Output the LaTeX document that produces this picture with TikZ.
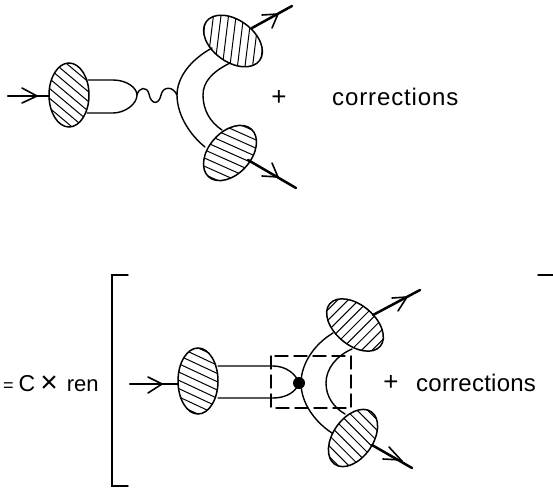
\documentclass[tikz,border=0pt]{standalone}
\usepackage{fontspec}
\setmainfont{Liberation Sans}
\usetikzlibrary{shapes.geometric}
\tikzset{
  x=1pt,y=-1pt,
  wire/.style={line width=1.4pt,line cap=round},
  leg/.style={line width=2.5pt,line cap=round},
  barb/.style={line width=1.6pt,line cap=round,line join=miter},
  lbl/.style={inner sep=0pt,font=\fontsize{24}{26}\selectfont},
  pluslbl/.style={inner sep=0pt,font=\fontsize{26}{28}\selectfont},
  blob/.style n args={3}{ellipse,draw,line width=1.5pt,inner sep=0pt,minimum width=2*#1 pt,minimum height=2*#2 pt,rotate=#3},
}
% #1 centre, #2 half axis, #3 half axis, #4 tilt, #5 hatch angle, #6 spacing
\newcommand\hatchblob[6]{%
  \begin{scope}
    \clip[shift={(#1)},rotate=#4] (0pt,0pt) ellipse [x radius=#2pt,y radius=#3pt];
    \begin{scope}[shift={(#1)},rotate=#5]
      \foreach \k in {-7,...,7}{\draw[line width=1pt] (-50pt,\k*#6pt) -- (50pt,\k*#6pt);}
    \end{scope}
  \end{scope}}
\begin{document}
\begin{tikzpicture}
\useasboundingbox (0,0) rectangle (553,487);
% top diagram
\coordinate (ha1) at (69,95);
\coordinate (ha2) at (233,41);
\coordinate (ha3) at (230,153);
\hatchblob{ha1}{32}{20}{90}{-40}{7.5}
\hatchblob{ha2}{33}{21}{-36}{83}{7.5}
\hatchblob{ha3}{32}{21}{48}{-24}{7.5}
\node[blob={32}{20}{90}] (a1) at (ha1) {};
\node[blob={33}{21}{-36}] (a2) at (ha2) {};
\node[blob={32}{21}{48}] (a3) at (ha3) {};
\coordinate (a1in) at (8,96);
\coordinate (a2out) at (292,6);
\coordinate (a3out) at (296,188);
\coordinate (av) at (137,95);
\coordinate (aw) at (177,95);
\draw[leg] (a1in) -- (49,96);
\draw[leg] (252,28) -- (a2out);
\draw[leg] (248,160) -- (a3out);
\draw[barb] (22,88) -- (37,96) -- (22,103);
\draw[barb] (262,15) -- (278,14) -- (272,28);
\draw[barb] (262,176) -- (278,177) -- (272,163);
\draw[wire] (88,80) -- (113,80) .. controls (127,80) and (137,88) .. (av) .. controls (137,104) and (125,113) .. (113,113) -- (87,113);
\draw[wire] (av) .. controls (139,87) and (147,86) .. (149,94) .. controls (151,105) and (159,105) .. (161,95) .. controls (163,86) and (173,86) .. (aw);
\draw[wire] (212,48) .. controls (190,60) and (177,78) .. (aw) .. controls (177,115) and (190,135) .. (205,147);
\draw[wire] (230,63) .. controls (212,72) and (203,82) .. (203,95) .. controls (203,110) and (210,122) .. (222,130);
\node[pluslbl] (p1) at (279,98) {+};
\node[lbl,anchor=base west] (c1) at (332,105) {\addfontfeature{LetterSpace=3.7}corrections};
% bottom diagram
\node[lbl,anchor=base west] (eq) at (3,391) {\fontsize{18}{18}\selectfont=\hspace{5pt}\fontsize{23}{26}\selectfont C\hspace{5pt}\raisebox{-1.5pt}{\fontsize{30}{30}\selectfont ×}\hspace{9pt}\fontsize{22}{26}\selectfont ren};
\draw[wire] (128,275) -- (112,275) -- (112,486) -- (128,486);
\coordinate (rb1) at (538,275);
\coordinate (rb2) at (553,275);
\draw[wire] (rb1) -- (rb2);
\coordinate (hb1) at (198,381);
\coordinate (hb2) at (355,325);
\coordinate (hb3) at (353,438);
\hatchblob{hb1}{33}{20}{90}{-25}{7.5}
\hatchblob{hb2}{33}{20}{-40}{45}{7.5}
\hatchblob{hb3}{32}{20}{55}{-45}{7.5}
\node[blob={33}{20}{90}] (b1) at (hb1) {};
\node[blob={33}{20}{-40}] (b2) at (hb2) {};
\node[blob={32}{20}{55}] (b3) at (hb3) {};
\coordinate (b1in) at (130,384);
\coordinate (b2out) at (420,290);
\coordinate (b3out) at (412,468);
\node[circle,fill,inner sep=0pt,minimum size=12pt] (dot) at (299,383) {};
\draw[leg] (b1in) -- (178,384);
\draw[leg] (373,315) -- (b2out);
\draw[leg] (372,445) -- (b3out);
\draw[barb] (148,377) -- (162,384) -- (148,393);
\draw[barb] (392,298) -- (407,297) -- (398,311);
\draw[barb] (383,459) -- (401,460) -- (389,447);
\draw[wire] (218,366) -- (273,366) .. controls (286,366) and (296,374) .. (dot.center) .. controls (296,392) and (286,398) .. (273,398) -- (218,398);
\draw[wire] (333,333) .. controls (313,345) and (301,365) .. (301,383) .. controls (301,403) and (315,422) .. (332,433);
\draw[wire] (352,349) .. controls (336,356) and (326,369) .. (326,383) .. controls (326,396) and (333,407) .. (345,414);
\draw[wire,dash pattern=on 13pt off 6pt] (271,356) rectangle (351,408);
\node[pluslbl] (p2) at (391,383) {+};
\node[lbl,anchor=base west] (c2) at (416,391) {\addfontfeature{LetterSpace=1}corrections};
\end{tikzpicture}
\end{document}
